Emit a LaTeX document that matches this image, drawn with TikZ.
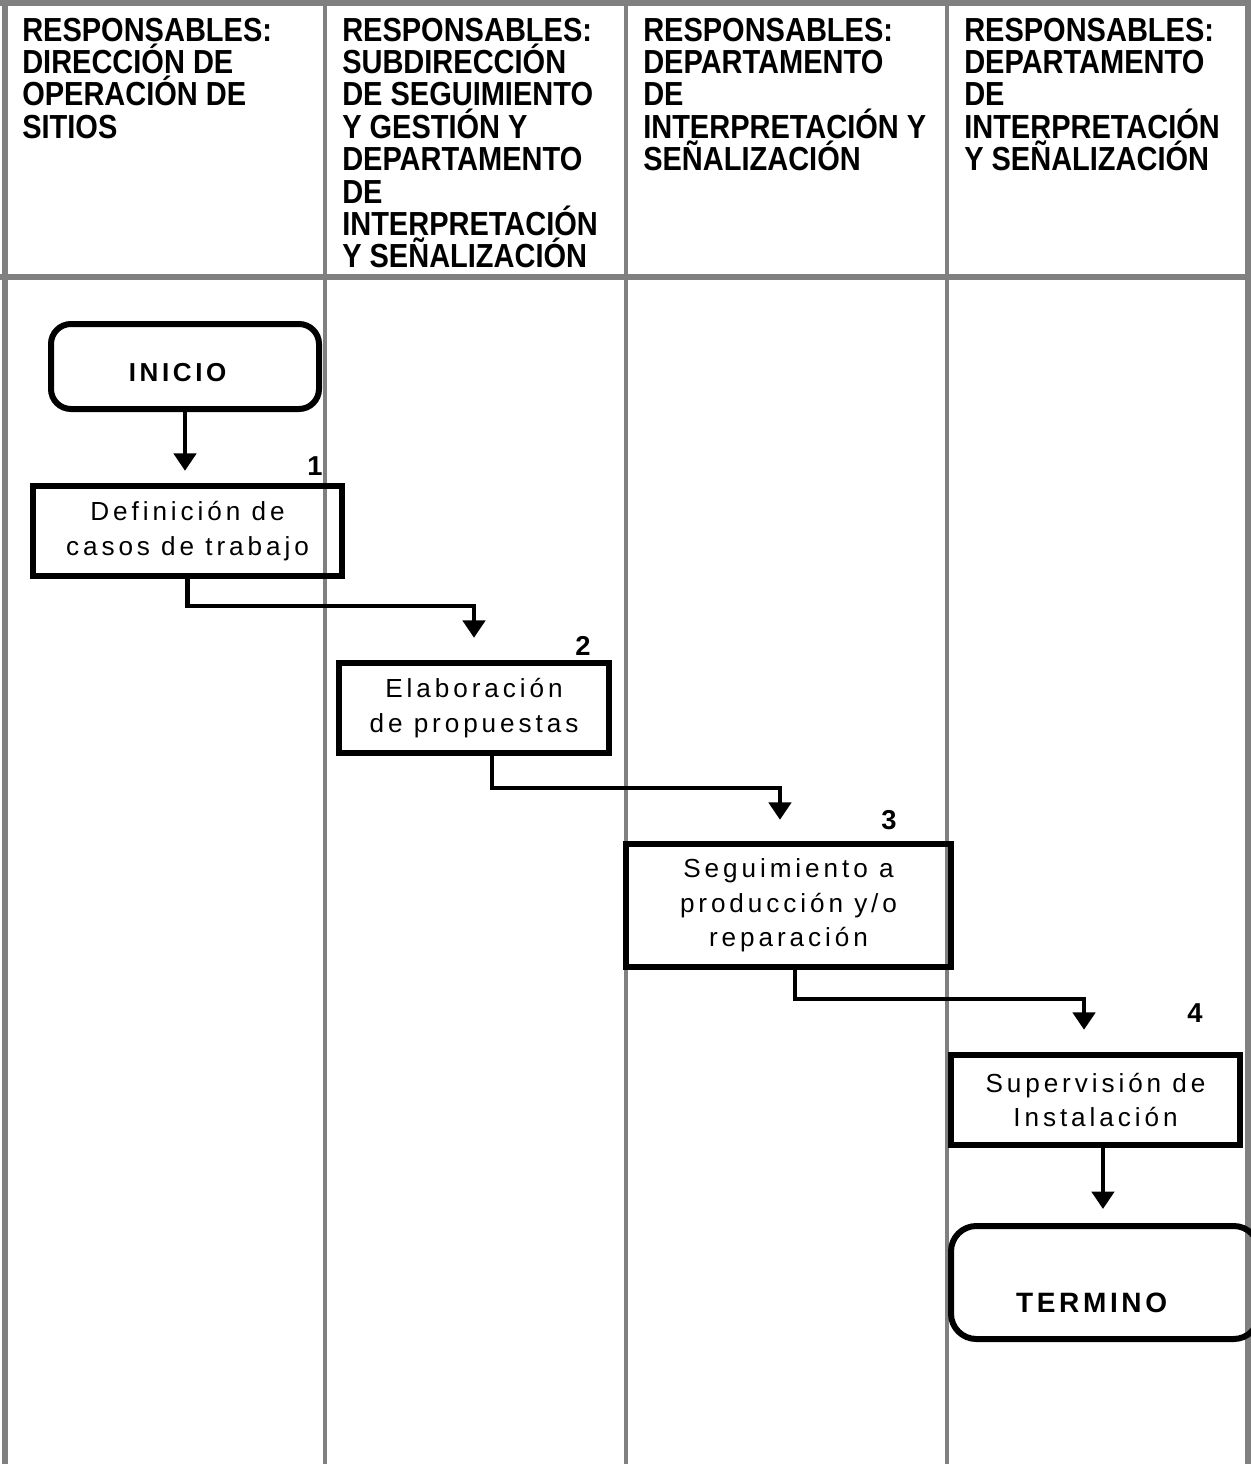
\documentclass[tikz,border=0pt]{standalone}
\usepackage{fontspec}
\setmainfont{Liberation Sans}
\newfontfamily\hdrfont[FakeStretch=0.87]{Liberation Sans}
\newfontfamily\bodyfont[LetterSpace=15]{Liberation Sans}
\newfontfamily\inifont[LetterSpace=14]{Liberation Sans}
\newfontfamily\endfont[LetterSpace=13]{Liberation Sans}
\usetikzlibrary{arrows.meta}
\definecolor{lanegray}{RGB}{128,128,128}
\begin{document}
\begin{tikzpicture}[x=0.75pt,y=-0.75pt,
  lane/.style={draw=lanegray,line width=3pt},
  border/.style={draw=lanegray,line width=4.2pt},
  hdr/.style={anchor=north west,align=left,inner sep=0pt,
    font={\hdrfont\bfseries\fontsize{25}{24.3}\selectfont}},
  pbox/.style={draw,line width=4.8pt,inner sep=0pt,align=center,
    font={\bodyfont\fontsize{19.6}{26}\selectfont}},
  rbox/.style={draw,line width=4.5pt,inner sep=0pt,rounded corners=15pt},
  num/.style={inner sep=0pt,font={\bfseries\fontsize{20.5}{22}\selectfont}},
  arr/.style={draw,line width=3.4pt,-{Triangle[width=16.5pt,length=13pt]}}
]
\useasboundingbox (0,0) rectangle (1250,1464);
% grid
\draw[border] (0,3) -- (1250,3);
\draw[border] (5,0) -- (5,1464);
\draw[border] (1248,0) -- (1248,1464);
\draw[border] (0,277) -- (1250,277);
\draw[lane] (325,0) -- (325,1464);
\draw[lane] (626,0) -- (626,1464);
\draw[lane] (947,0) -- (947,1464);
% headers
\node[hdr] (h1) at (22,17.5) {RESPONSABLES:\\DIRECCIÓN DE\\OPERACIÓN DE\\SITIOS};
\node[hdr] (h2) at (342,17.5) {RESPONSABLES:\\SUBDIRECCIÓN\\DE SEGUIMIENTO\\Y GESTIÓN Y\\DEPARTAMENTO\\DE\\INTERPRETACIÓN\\Y SEÑALIZACIÓN};
\node[hdr] (h3) at (643,17.5) {RESPONSABLES:\\DEPARTAMENTO\\DE\\INTERPRETACIÓN Y\\SEÑALIZACIÓN};
\node[hdr] (h4) at (964,17.5) {RESPONSABLES:\\DEPARTAMENTO\\DE\\INTERPRETACIÓN\\Y SEÑALIZACIÓN};
% nodes
\node[rbox,minimum width=201pt,minimum height=63.75pt,
  label={[inner sep=0pt,xshift=-5.5pt,yshift=-4.5pt,font={\inifont\bfseries\fontsize{19.5}{22}\selectfont}]center:INICIO}] (inicio) at (185,366.5) {};
\node[pbox,minimum width=231.75pt,minimum height=67.5pt] (b1) at (187.5,531) {Definición de\\casos de trabajo};
\node[pbox,minimum width=202.5pt,minimum height=67.5pt] (b2) at (474,708) {Elaboración\\de propuestas};
\node[pbox,minimum width=243.75pt,minimum height=92.25pt] (b3) at (788.5,905.5) {Seguimiento a\\producción y/o\\reparación};
\node[pbox,minimum width=216.75pt,minimum height=67.5pt] (b4) at (1095.5,1100) {Supervisión de\\Instalación};
\node[rbox,rounded corners=19pt,minimum width=231pt,minimum height=84.75pt,
  label={[inner sep=0pt,xshift=-10pt,yshift=-15.4pt,font={\endfont\bfseries\fontsize{21}{24}\selectfont}]center:TERMINO}] (termino) at (1105,1282.5) {};
% numbers
\node[num] (n1) at (315,466) {1};
\node[num] (n2) at (583,646) {2};
\node[num] (n3) at (889,820) {3};
\node[num] (n4) at (1195,1013) {4};
% connectors
\draw[arr,shorten >=9pt] (inicio.south) -- (inicio.south |- b1.north);
\draw[arr,shorten >=16.5pt] (b1.south) -- (b1.south |- 0,606) -| (b2.north);
\draw[arr,shorten >=15.75pt] ([xshift=13.5pt]b2.south) -- ([xshift=13.5pt]b2.south |- 0,788) -| ([xshift=-6.4pt]b3.north);
\draw[arr,shorten >=16.5pt] ([xshift=4.9pt]b3.south) -- ([xshift=4.9pt]b3.south |- 0,999) -| ([xshift=-8.6pt]b4.north);
\draw[arr,shorten >=10.5pt] ([xshift=5.6pt]b4.south) -- ([xshift=5.6pt]b4.south |- termino.north);
\end{tikzpicture}
\end{document}
